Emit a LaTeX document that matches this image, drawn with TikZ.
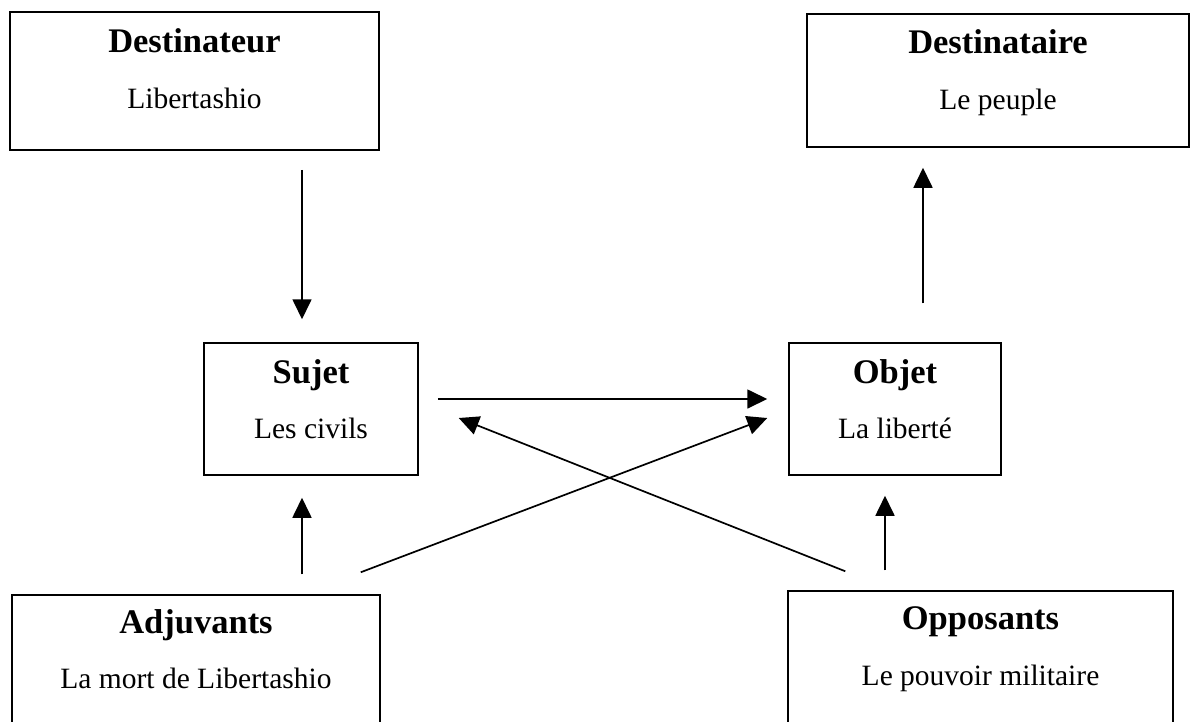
\documentclass[tikz,border=0pt]{standalone}
\usepackage{fontspec}
\setmainfont{Liberation Serif}
\usetikzlibrary{arrows.meta,calc}
\begin{document}
\begin{tikzpicture}[x=1pt,y=-1pt,
  box/.style={draw, line width=1.5pt, rectangle, inner sep=0pt},
  title/.style={anchor=base, inner sep=0pt, font=\fontsize{34.5}{40}\selectfont\bfseries},
  sub/.style={anchor=base, inner sep=0pt, font=\fontsize{29.5}{35}\selectfont},
  arr/.style={-{Triangle[length=20pt,width=19pt]}, line width=1.7pt}]
\clip (0,0) rectangle (1190,721);

% actant boxes
\node[box, minimum width=369pt, minimum height=138pt] (dest) at (194.5,81) {};
\node[title] (destT) at (194.5,52) {Destinateur};
\node[sub] (destS) at (194.5,108) {Libertashio};

\node[box, minimum width=382pt, minimum height=133pt] (destin) at (998,80.5) {};
\node[title] (destinT) at (998,53) {Destinataire};
\node[sub] (destinS) at (998,109) {Le peuple};

\node[box, minimum width=214pt, minimum height=132pt] (sujet) at (311,409) {};
\node[title] (sujetT) at (311,383) {Sujet};
\node[sub] (sujetS) at (311,438) {Les civils};

\node[box, minimum width=212pt, minimum height=132pt] (objet) at (895,409) {};
\node[title] (objetT) at (895,383) {Objet};
\node[sub] (objetS) at (895,438) {La liberté};

\node[box, minimum width=368pt, minimum height=165pt] (adj) at (196,677.5) {};
\node[title] (adjT) at (196,633) {Adjuvants};
\node[sub] (adjS) at (196,688) {La mort de Libertashio};

\node[box, minimum width=385pt, minimum height=169pt] (opp) at (980.5,675.5) {};
\node[title] (oppT) at (980.5,629) {Opposants};
\node[sub] (oppS) at (980.5,685) {Le pouvoir militaire};

% relations
\draw[arr] ($(dest.south)+(107.5,19)$) -- ($(sujet.north)+(-9,-23)$);
\draw[arr] ($(objet.north)+(28,-39)$) -- ($(destin.south)+(-75,20)$);
\draw[arr] ($(sujet.east)+(19,-10)$) -- ($(objet.west)+(-21,-10)$);
\draw[arr] ($(adj.north)+(106,-20)$) -- ($(sujet.south)+(-9,22)$);
\draw[arr] ($(opp.north)+(-95.5,-20)$) -- ($(objet.south)+(-10,20)$);
\draw[arr] ($(adj.north east)+(-20,-22)$) -- ($(objet.west)+(-21,9)$);
\draw[arr] ($(opp.north west)+(58,-19)$) -- ($(sujet.east)+(40,9)$);
\end{tikzpicture}
\end{document}
